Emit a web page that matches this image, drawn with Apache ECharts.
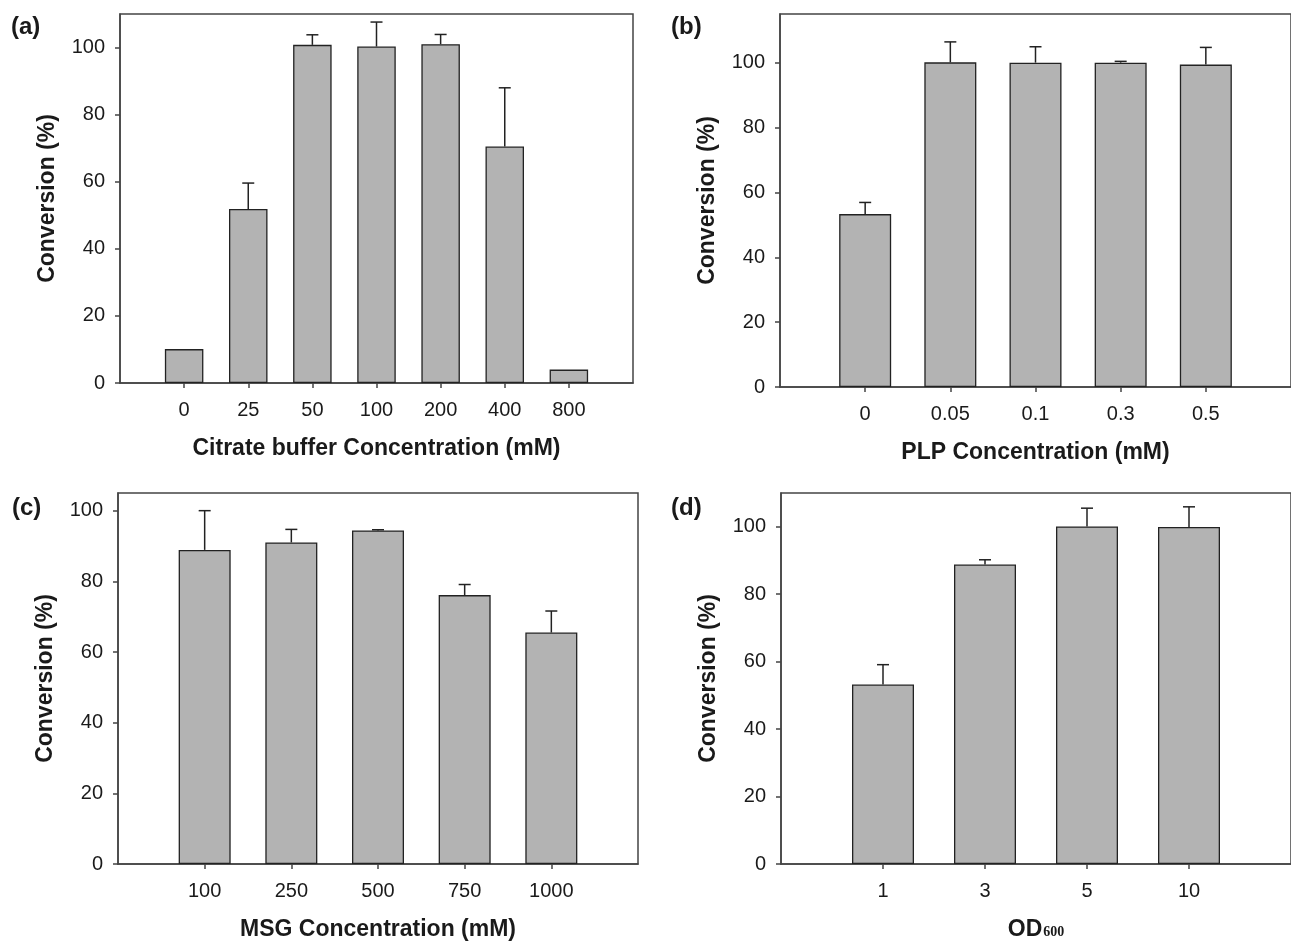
<!DOCTYPE html>
<html>
<head>
<meta charset="utf-8">
<script src="https://cdn.jsdelivr.net/npm/echarts@6/dist/echarts.min.js"></script>
<style>
html,body{margin:0;padding:0;background:#fff;}
#chart{width:1291px;height:942px;}
</style>
</head>
<body>
<div id="chart"></div>
<script>
// ---- data ----
const yTicks = [0, 20, 40, 60, 80, 100];

const catsA = ['0', '25', '50', '100', '200', '400', '800'];
const valsA = [10.1, 51.9, 100.8, 100.3, 101.0, 70.5, 4.0];
const errA  = [0, 7.7, 3.0, 7.3, 2.9, 17.5, 0];

const catsB = ['0', '0.05', '0.1', '0.3', '0.5'];
const valsB = [53.3, 100.1, 100.0, 100.0, 99.4];
const errB  = [3.6, 6.3, 4.9, 0.4, 5.3];

const catsC = ['100', '250', '500', '750', '1000'];
const valsC = [88.9, 91.0, 94.4, 76.1, 65.5];
const errC  = [11.1, 3.7, 0.2, 3.0, 6.1];

const catsD = ['1', '3', '5', '10'];
const valsD = [53.2, 88.8, 100.1, 99.9];
const errD  = [5.9, 1.4, 5.4, 6.0];

// ---- chart ----
const FONT = 'Liberation Sans, Arial, sans-serif';
const AX = '#444';
const TXT = '#1a1a1a';

const panels = [
  {cats: catsA, vals: valsA, errs: errA, ymax: 110, grid: {left: 120, top: 14, width: 513, height: 369}, barW: 38.5,
   xname: 'Citrate buffer Concentration (mM)', label: '(a)', lx: 11, ly: 15},
  {cats: catsB, vals: valsB, errs: errB, ymax: 115, grid: {left: 780, top: 14, width: 519, height: 373}, barW: 52,
   xname: 'PLP Concentration (mM)', label: '(b)', lx: 671, ly: 15},
  {cats: catsC, vals: valsC, errs: errC, ymax: 105, grid: {left: 118, top: 493, width: 520, height: 373}, barW: 52,
   xname: 'MSG Concentration (mM)', label: '(c)', lx: 12, ly: 496},
  {cats: catsD, vals: valsD, errs: errD, ymax: 110, grid: {left: 781, top: 493, width: 519, height: 371}, barW: 62,
   xname: '{a|OD}{b|600}', label: '(d)', lx: 671, ly: 496}
];

const option = {
  backgroundColor: '#fff',
  animation: false,
  grid: [], xAxis: [], yAxis: [], series: [], graphic: []
};

panels.forEach((p, k) => {
  const n = p.cats.length;
  const idx = p.cats.map((c, i) => i);
  option.grid.push(Object.assign({show: true, borderColor: AX, borderWidth: 1.5, backgroundColor: 'transparent'}, p.grid));
  option.xAxis.push({
    type: 'value', gridIndex: k, min: -1, max: n, interval: 1,
    axisLine: {show: true, onZero: false, lineStyle: {color: AX, width: 1.5}},
    axisTick: {show: true, length: 5, customValues: idx, lineStyle: {color: AX, width: 1.5}},
    axisLabel: {customValues: idx, margin: 17, fontSize: 20, color: TXT, fontFamily: FONT,
      formatter: v => p.cats[Math.round(v)] !== undefined ? p.cats[Math.round(v)] : ''},
    splitLine: {show: false},
    name: p.xname, nameLocation: 'middle', nameGap: 54,
    nameTextStyle: {fontSize: 23, fontWeight: 'bold', color: TXT, fontFamily: FONT,
      rich: {
        a: {fontSize: 23, fontWeight: 'bold', color: TXT, fontFamily: FONT},
        b: {fontSize: 14, fontWeight: 'bold', color: TXT, fontFamily: 'Liberation Serif, Times New Roman, serif', padding: [6, 0, 0, 1]}
      }}
  });
  option.yAxis.push({
    type: 'value', gridIndex: k, min: 0, max: p.ymax, interval: 20,
    axisLine: {show: true, onZero: false, lineStyle: {color: AX, width: 1.5}},
    axisTick: {show: true, length: 5, customValues: yTicks, lineStyle: {color: AX, width: 1.5}},
    axisLabel: {customValues: yTicks, margin: 15, fontSize: 20, color: TXT, fontFamily: FONT},
    splitLine: {show: false},
    name: 'Conversion (%)', nameLocation: 'middle', nameGap: 61,
    nameTextStyle: {fontSize: 23, fontWeight: 'bold', color: TXT, fontFamily: FONT}
  });
  option.series.push({
    type: 'bar', xAxisIndex: k, yAxisIndex: k, barWidth: p.barW,
    data: p.vals.map((v, i) => [i, v]),
    itemStyle: {color: '#b3b3b3', borderColor: '#222', borderWidth: 1.3},
    z: 2
  });
  option.series.push({
    type: 'custom', xAxisIndex: k, yAxisIndex: k, z: 3,
    data: p.vals.map((v, i) => [i, v, p.errs[i]]),
    encode: {x: 0, y: 1},
    renderItem: (params, api) => {
      const x = api.value(0), v = api.value(1), e = api.value(2);
      if (!(e > 0)) return null;
      const p0 = api.coord([x, v]);
      const p1 = api.coord([x, v + e]);
      const st = {stroke: '#222', lineWidth: 1.5};
      return {type: 'group', children: [
        {type: 'line', shape: {x1: p0[0], y1: p0[1], x2: p1[0], y2: p1[1]}, style: st},
        {type: 'line', shape: {x1: p1[0] - 6, y1: p1[1], x2: p1[0] + 6, y2: p1[1]}, style: st}
      ]};
    }
  });
  option.graphic.push({
    type: 'text', left: p.lx, top: p.ly,
    style: {text: p.label, font: 'bold 24px ' + FONT, fill: TXT}
  });
});

const chart = echarts.init(document.getElementById('chart'), null, {renderer: 'canvas'});
chart.setOption(option);
</script>
</body>
</html>
